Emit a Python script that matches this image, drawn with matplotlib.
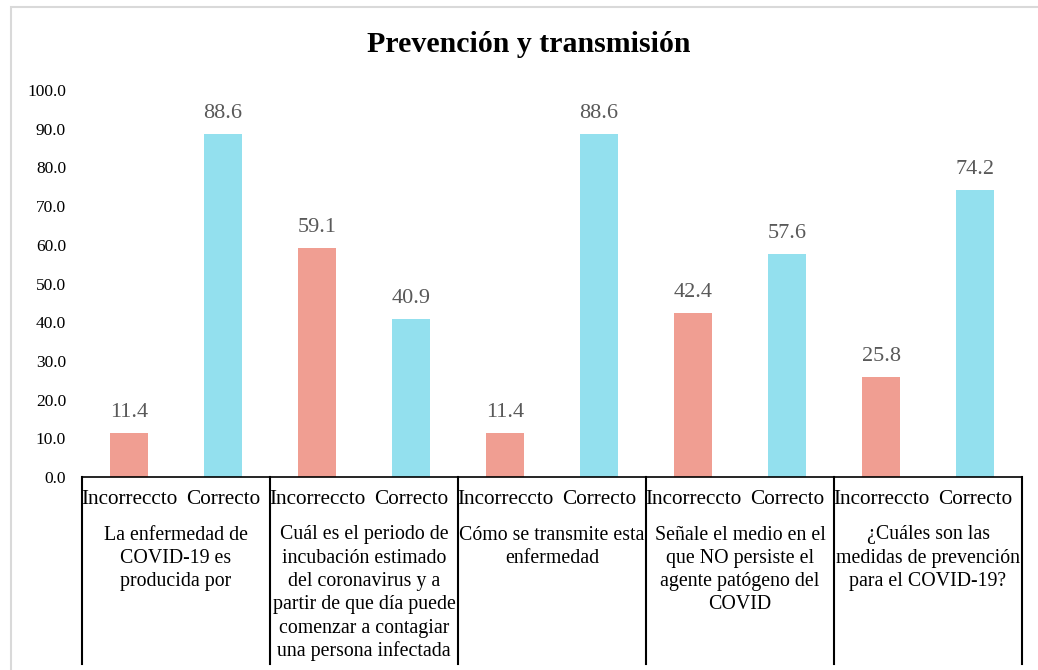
import matplotlib.pyplot as plt
from matplotlib.patches import Rectangle

plt.rcParams['font.family'] = ['Liberation Serif', 'DejaVu Serif']

# datos
preguntas = [
    ["La enfermedad de", "COVID-19 es", "producida por"],
    ["Cuál es el periodo de", "incubación estimado", "del coronavirus y a",
     "partir de que día puede", "comenzar a contagiar", "una persona infectada"],
    ["Cómo se transmite esta", "enfermedad"],
    ["Señale el medio en el", "que NO persiste el", "agente patógeno del", "COVID"],
    ["¿Cuáles son las", "medidas de prevención", "para el COVID-19?"],
]
respuestas = ["Incorreccto", "Correcto"]
incorrecto = [11.4, 59.1, 11.4, 42.4, 25.8]
correcto = [88.6, 40.9, 88.6, 57.6, 74.2]

c_inc = "#F09E92"
c_cor = "#93E0EE"

W, H = 1038, 670
fig = plt.figure(figsize=(W / 100, H / 100), dpi=100)
ax = fig.add_axes([82 / W, (H - 477) / H, (1022 - 82) / W, (477 - 90) / H])

# borde gris del area del grafico
fig.add_artist(Rectangle((11 / W, -0.1), 2, (H - 6.5) / H + 0.1,
                         transform=fig.transFigure, fill=False,
                         edgecolor="#D9D9D9", lw=1.5))

valores = []
colores = []
for i, c in zip(incorrecto, correcto):
    valores += [i, c]
    colores += [c_inc, c_cor]
xs = list(range(len(valores)))

bars = ax.bar(xs, valores, width=0.4, color=colores)
for x, v in zip(xs, valores):
    ax.annotate(f"{v:.1f}", (x, v), xytext=(0, 8), textcoords="offset points",
                ha="center", va="bottom", fontsize=16, color="#595959")

ax.set_xlim(-0.5, len(valores) - 0.5)
ax.set_ylim(0, 100)
ax.set_yticks(range(0, 101, 10))
ax.set_yticklabels([f"{t:.1f}" for t in range(0, 101, 10)])
ax.tick_params(axis="y", length=0, pad=11.5, labelsize=12.5)
ax.set_xticks([])
for s in ["top", "right", "left"]:
    ax.spines[s].set_visible(False)
ax.spines["bottom"].set_linewidth(1.2)
ax.spines["bottom"].set_color("black")

tr = ax.get_xaxis_transform()
px = 1 / (477 - 90)  # un pixel en fraccion del eje

# separadores de grupos
for g in range(len(preguntas) + 1):
    xg = g * 2 - 0.5
    ax.plot([xg, xg], [0, -(664 - 477) * px], transform=tr, color="black",
            lw=1.5, clip_on=False)

# etiquetas de categorias
for x in xs:
    ax.text(x, -(499 - 477) * px, respuestas[x % 2], transform=tr,
            ha="center", va="center", fontsize=15.3)

for g, lineas in enumerate(preguntas):
    xc = g * 2 + 0.5
    for k, linea in enumerate(lineas):
        ax.text(xc, -(535 + 23.3 * k - 477) * px, linea, transform=tr,
                ha="center", va="center", fontsize=14.3)

fig.text(529 / W, (H - 45) / H, "Prevención y transmisión", ha="center",
         va="center", fontsize=21.5, fontweight="bold")

fig.savefig("out.png", dpi=100)
